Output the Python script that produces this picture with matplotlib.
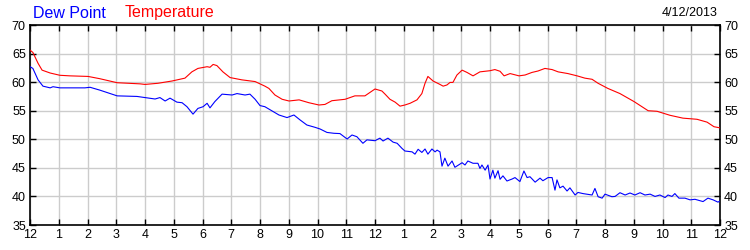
import matplotlib
matplotlib.use("Agg")
import matplotlib.pyplot as plt

plt.rcParams["font.family"] = ["Liberation Sans", "DejaVu Sans"]

# ── Data (hours since midnight, degrees F) ───────────────────────────────────
temp_hours = [0.00, 0.10, 0.28, 0.42, 0.70, 1.04, 1.39, 2.02, 2.43, 3.03, 3.83, 4.00,
              4.45, 4.94, 5.39, 5.63, 5.84, 6.16, 6.26, 6.37, 6.50, 6.71, 6.96, 7.37,
              7.83, 8.17, 8.31, 8.52, 8.77, 9.01, 9.36, 9.70, 10.05, 10.26, 10.50, 10.96,
              11.30, 11.65, 12.00, 12.24, 12.35, 12.52, 12.70, 12.87, 13.04, 13.22, 13.46,
              13.63, 13.74, 13.84, 14.02, 14.26, 14.37, 14.50, 14.61, 14.71, 14.85, 15.03,
              15.20, 15.41, 15.65, 16.00, 16.17, 16.35, 16.49, 16.70, 17.01, 17.22, 17.46,
              17.67, 17.91, 18.16, 18.37, 18.71, 19.03, 19.30, 19.55, 19.76, 20.10, 20.52,
              21.01, 21.50, 21.81, 22.26, 22.71, 23.20, 23.55, 23.79, 24.00]
temperature = [65.6, 65.2, 63.3, 62.1, 61.6, 61.2, 61.1, 61.0, 60.6, 59.9, 59.7, 59.6,
               59.8, 60.2, 60.7, 61.8, 62.4, 62.7, 62.6, 63.1, 62.9, 61.8, 60.8, 60.4,
               60.1, 59.3, 58.9, 57.75, 57.0, 56.7, 56.9, 56.4, 56.0, 56.1, 56.75, 57.0,
               57.6, 57.6, 58.8, 58.45, 57.9, 57.0, 56.5, 55.8, 56.0, 56.3, 56.9,
               58.0, 59.8, 61.0, 60.2, 59.6, 59.3, 59.5, 59.95, 59.95, 61.25, 62.1,
               61.7, 61.1, 61.8, 62.0, 62.2, 61.9, 61.1, 61.5, 61.1, 61.25, 61.7,
               61.95, 62.4, 62.2, 61.8, 61.5, 61.1, 60.7, 60.5, 59.8, 58.9, 58.0,
               56.6, 55.0, 54.9, 54.2, 53.7, 53.5, 53.0, 52.2, 52.0]

dew_hours = [0.00, 0.10, 0.28, 0.45, 0.70, 0.80, 1.04, 1.91, 2.09, 2.43, 3.03, 3.72,
             4.00, 4.35, 4.52, 4.70, 4.87, 5.11, 5.29, 5.46, 5.67, 5.84, 6.02, 6.16,
             6.26, 6.43, 6.68, 7.03, 7.20, 7.48, 7.65, 7.83, 8.00, 8.17, 8.42, 8.66,
             8.94, 9.18, 9.39, 9.63, 9.91, 10.09, 10.33, 10.57, 10.78, 11.03, 11.20,
             11.37, 11.58, 11.72, 12.00, 12.17, 12.28, 12.45, 12.63, 12.77, 12.94, 13.04,
             13.29, 13.39, 13.50, 13.63, 13.74, 13.84, 13.98, 14.09, 14.16, 14.26, 14.33,
             14.43, 14.54, 14.68, 14.78, 15.03, 15.13, 15.23, 15.41, 15.58, 15.65, 15.72,
             15.83, 15.93, 16.00, 16.10, 16.17, 16.28, 16.35, 16.45, 16.59, 16.77, 16.87,
             17.04, 17.18, 17.29, 17.39, 17.57, 17.74, 17.84, 18.02, 18.16, 18.26, 18.33,
             18.43, 18.54, 18.68, 18.78, 18.96, 19.06, 19.23, 19.55, 19.65, 19.76, 19.90,
             20.00, 20.24, 20.35, 20.52, 20.70, 20.87, 21.04, 21.22, 21.39, 21.57, 21.74,
             21.91, 22.09, 22.19, 22.33, 22.43, 22.57, 22.78, 22.96, 23.13, 23.41, 23.58,
             23.76, 23.93, 24.00]
dew_point = [62.7, 62.4, 60.4, 59.3, 59.0, 59.2, 59.0, 59.0, 59.1, 58.6, 57.6, 57.5,
             57.3, 57.05, 57.3, 56.7, 57.2, 56.5, 56.4, 55.7, 54.4, 55.4, 55.7, 56.3,
             55.5, 56.6, 57.9, 57.75, 58.0, 57.75, 57.9, 57.0, 55.9, 55.7, 54.95, 54.25,
             53.8, 54.25, 53.4, 52.5, 52.1, 51.8, 51.2, 51.05, 51.0, 50.05, 50.75,
             50.45, 49.3, 49.9, 49.75, 50.2, 49.7, 50.2, 49.5, 49.3, 48.4, 47.95,
             47.8, 47.4, 48.25, 47.7, 48.3, 47.4, 48.3, 47.8, 48.1, 47.8, 45.3,
             46.7, 45.3, 46.2, 45.1, 45.9, 45.5, 46.2, 45.8, 45.8, 44.9, 45.5,
             44.6, 45.5, 43.05, 44.6, 43.2, 44.5, 43.0, 43.6, 42.7, 43.05, 43.3,
             42.6, 44.45, 43.3, 43.45, 42.5, 43.2, 42.75, 43.3, 43.3, 41.1, 42.9,
             41.5, 41.8, 40.95, 41.5, 40.25, 40.7, 40.5, 40.25, 41.4, 39.95, 39.7,
             40.4, 39.95, 40.0, 40.65, 40.25, 40.6, 40.25, 40.65, 40.25, 40.4, 40.0,
             40.25, 39.8, 40.25, 40.0, 40.5, 39.7, 39.7, 39.4, 39.5, 39.1, 39.7,
             39.4, 39.0, 39.2]

hour_ticks = list(range(25))
hour_labels = ["12", "1", "2", "3", "4", "5", "6", "7", "8", "9", "10", "11",
               "12", "1", "2", "3", "4", "5", "6", "7", "8", "9", "10", "11", "12"]
y_ticks = [35, 40, 45, 50, 55, 60, 65, 70]

# ── Layout ───────────────────────────────────────────────────────────────────
fig = plt.figure(figsize=(7.5, 2.5), dpi=100, facecolor="white")
ax = fig.add_axes([0.04, 0.1, 0.92, 0.8])

ax.plot(dew_hours, dew_point, color="#0000ff", linewidth=0.8, zorder=3)
ax.plot(temp_hours, temperature, color="#ff0000", linewidth=0.8, zorder=3)

ax.set_xlim(0, 24)
ax.set_ylim(35, 70)
ax.set_xticks(hour_ticks)
ax.set_xticklabels(hour_labels)
ax.set_yticks(y_ticks)
ax.grid(color="#cccccc", linewidth=1.0, zorder=0)
ax.set_axisbelow(True)

ax.tick_params(axis="both", direction="in", length=4, width=1, labelsize=9,
               top=True, right=True, labelright=True, pad=3)
for spine in ax.spines.values():
    spine.set_edgecolor("black")
    spine.set_linewidth(1.2)

fig.text(33 / 750, 1 - 13 / 250, "Dew Point", color="#0000ff", fontsize=11.5, va="center")
fig.text(125 / 750, 1 - 13 / 250, "Temperature", color="#ff0000", fontsize=11.5, va="center")
fig.text(718 / 750, 1 - 13 / 250, "4/12/2013", color="black", fontsize=9,
         va="center", ha="right")

plt.savefig("out.png", dpi=100, facecolor="white")
